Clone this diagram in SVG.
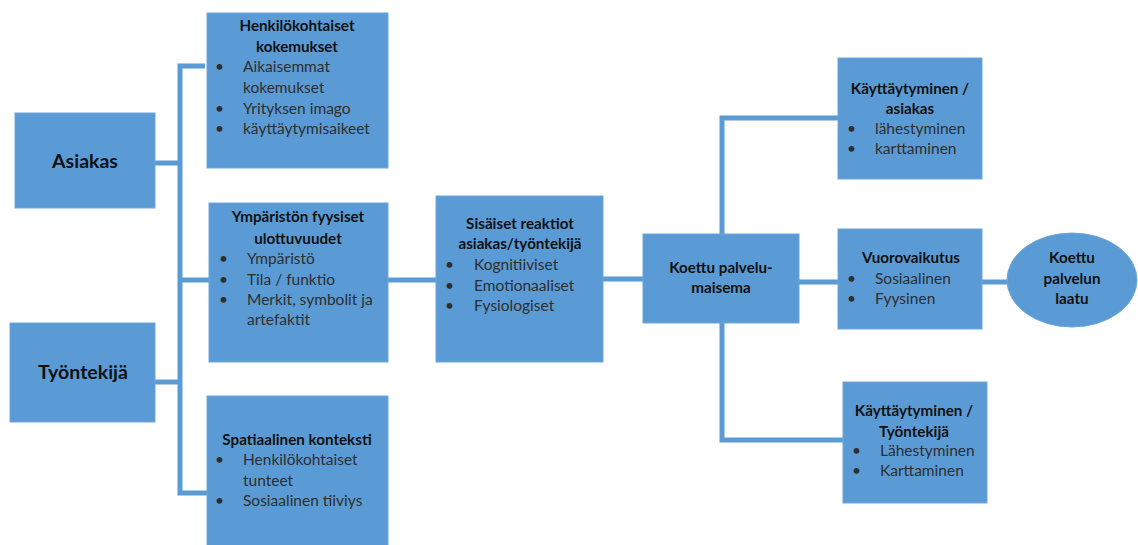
<svg xmlns="http://www.w3.org/2000/svg" width="1138" height="545" viewBox="0 0 1138 545">
<style>
.box{fill:#5b9bd5;stroke:#6fa6da;stroke-width:1}
.ln{fill:none;stroke:#5b9bd5;stroke-width:5;stroke-linejoin:miter}
text{font-family:Lato,"Open Sans","Liberation Sans",sans-serif;font-size:15.5px}
.t{font-weight:bold;fill:#111;text-anchor:middle;font-size:15.2px}
.big{font-weight:bold;fill:#111;text-anchor:middle;font-size:19.5px}
.b{fill:#2e2e2e}
</style>
<rect width="1138" height="545" fill="#fff"/>
<g id="connectors">
<path class="ln" d="M205,66 H180 V493 H207"/>
<path class="ln" d="M155,163 H180"/>
<path class="ln" d="M155,382 H180"/>
<path class="ln" d="M180,280 H210"/>
<path class="ln" d="M388,280 H437"/>
<path class="ln" d="M603,279 H644"/>
<path class="ln" d="M838,118 H722 V234"/>
<path class="ln" d="M722,323 V440 H843"/>
<path class="ln" d="M799,282 H838"/>
<path class="ln" d="M982,282 H1008"/>
</g>
<g id="asiakas">
<rect class="box" x="15" y="113" width="140" height="95"/>
<text class="big" x="85" y="168">Asiakas</text>
</g>
<g id="tyontekija">
<rect class="box" x="10" y="323" width="145" height="99"/>
<text class="big" x="83" y="379">Työntekijä</text>
</g>
<g id="henkilokohtaiset">
<rect class="box" x="207" y="13" width="181" height="155"/>
<text class="t" x="297" y="31">Henkilökohtaiset</text>
<text class="t" x="297" y="52">kokemukset</text>
<text class="b" x="215" y="72">•</text><text class="b" x="243" y="72">Aikaisemmat</text>
<text class="b" x="243" y="93">kokemukset</text>
<text class="b" x="215" y="114">•</text><text class="b" x="243" y="114">Yrityksen imago</text>
<text class="b" x="215" y="134">•</text><text class="b" x="243" y="134">käyttäytymisaikeet</text>
</g>
<g id="ymparisto">
<rect class="box" x="209" y="203" width="179" height="159"/>
<text class="t" x="298" y="222">Ympäristön fyysiset</text>
<text class="t" x="298" y="244">ulottuvuudet</text>
<text class="b" x="219" y="264">•</text><text class="b" x="247" y="264">Ympäristö</text>
<text class="b" x="219" y="285">•</text><text class="b" x="247" y="285">Tila / funktio</text>
<text class="b" x="219" y="305">•</text><text class="b" x="247" y="305">Merkit, symbolit ja</text>
<text class="b" x="247" y="325">artefaktit</text>
</g>
<g id="spatiaalinen">
<rect class="box" x="207" y="396" width="181" height="160"/>
<text class="t" x="297" y="445">Spatiaalinen konteksti</text>
<text class="b" x="215" y="465">•</text><text class="b" x="243" y="465">Henkilökohtaiset</text>
<text class="b" x="243" y="486">tunteet</text>
<text class="b" x="215" y="506">•</text><text class="b" x="243" y="506">Sosiaalinen tiiviys</text>
</g>
<g id="sisaiset">
<rect class="box" x="436" y="196" width="167" height="166"/>
<text class="t" x="520" y="229">Sisäiset reaktiot</text>
<text class="t" x="520" y="249">asiakas/työntekijä</text>
<text class="b" x="445" y="270">•</text><text class="b" x="474" y="270">Kognitiiviset</text>
<text class="b" x="445" y="291">•</text><text class="b" x="474" y="291">Emotionaaliset</text>
<text class="b" x="445" y="311">•</text><text class="b" x="474" y="311">Fysiologiset</text>
</g>
<g id="palvelumaisema">
<rect class="box" x="643" y="234" width="156" height="89"/>
<text class="t" x="721" y="273">Koettu palvelu-</text>
<text class="t" x="721" y="293">maisema</text>
</g>
<g id="kaytt-asiakas">
<rect class="box" x="838" y="58" width="144" height="121"/>
<text class="t" x="910" y="94">Käyttäytyminen /</text>
<text class="t" x="910" y="114">asiakas</text>
<text class="b" x="847" y="134">•</text><text class="b" x="875" y="134">lähestyminen</text>
<text class="b" x="847" y="154">•</text><text class="b" x="875" y="154">karttaminen</text>
</g>
<g id="vuorovaikutus">
<rect class="box" x="838" y="229" width="144" height="100"/>
<text class="t" x="911" y="263">Vuorovaikutus</text>
<text class="b" x="847" y="284">•</text><text class="b" x="875" y="284">Sosiaalinen</text>
<text class="b" x="847" y="304">•</text><text class="b" x="875" y="304">Fyysinen</text>
</g>
<g id="laatu">
<ellipse class="box" cx="1072" cy="280" rx="65" ry="47"/>
<text class="t" x="1072" y="263">Koettu</text>
<text class="t" x="1072" y="284">palvelun</text>
<text class="t" x="1072" y="304">laatu</text>
</g>
<g id="kaytt-tyontekija">
<rect class="box" x="843" y="382" width="144" height="121"/>
<text class="t" x="914" y="416">Käyttäytyminen /</text>
<text class="t" x="914" y="437">Työntekijä</text>
<text class="b" x="852" y="456">•</text><text class="b" x="880" y="456">Lähestyminen</text>
<text class="b" x="852" y="476">•</text><text class="b" x="880" y="476">Karttaminen</text>
</g>
</svg>
